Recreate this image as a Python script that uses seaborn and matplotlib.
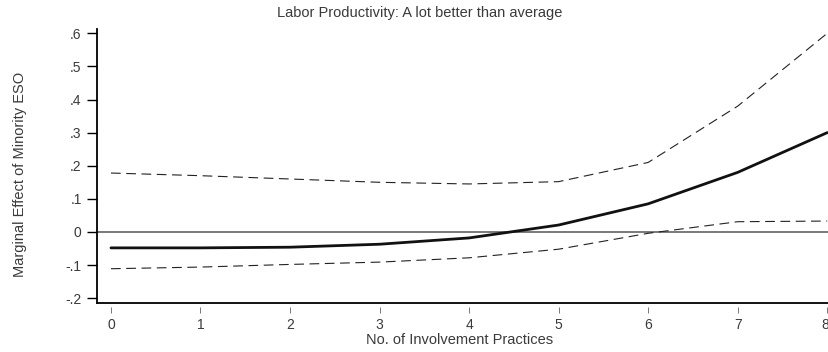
import numpy as np
import pandas as pd
import matplotlib
matplotlib.use("Agg")
import matplotlib.pyplot as plt
from matplotlib.lines import Line2D
from matplotlib.transforms import ScaledTranslation
import seaborn as sns

# ---- data ----
practices = [0, 1, 2, 3, 4, 5, 6, 7, 8]
effect = [-0.048, -0.048, -0.046, -0.037, -0.018, 0.021, 0.085, 0.180, 0.300]
upper_ci = [0.178, 0.170, 0.160, 0.150, 0.145, 0.152, 0.210, 0.380, 0.600]
lower_ci = [-0.111, -0.106, -0.098, -0.091, -0.078, -0.052, -0.004, 0.031, 0.033]
x_ticks = [0, 1, 2, 3, 4, 5, 6, 7, 8]
y_ticks = [-0.2, -0.1, 0, 0.1, 0.2, 0.3, 0.4, 0.5, 0.6]
y_ticklabels = ["-.2", "-.1", "0", ".1", ".2", ".3", ".4", ".5", ".6"]
title = "Labor Productivity: A lot better than average"
xlabel = "No. of Involvement Practices"
ylabel = "Marginal Effect of Minority ESO"

sns.set_style("white")
plt.rcParams['font.family'] = ['Liberation Sans', 'DejaVu Sans']
plt.rcParams['lines.scale_dashes'] = False

W, H = 829, 352
fig = plt.figure(figsize=(W / 100, H / 100), dpi=100)
L, R, T, B = 97, 829, 29, 303
ax = fig.add_axes([L / W, 1 - B / H, (R - L) / W, (B - T) / H])

text_color = "#3a3a3a"

df = pd.DataFrame({"x": practices, "effect": effect, "upper": upper_ci, "lower": lower_ci})

ax.axhline(0, color="#555555", lw=1.1, zorder=1)
sns.lineplot(data=df, x="x", y="upper", ax=ax, color="#222222", lw=0.8,
             linestyle=(0, (7, 4)), zorder=2)
sns.lineplot(data=df, x="x", y="lower", ax=ax, color="#222222", lw=0.8,
             linestyle=(0, (7, 4)), zorder=2)
sns.lineplot(data=df, x="x", y="effect", ax=ax, color="#111111", lw=2.0, zorder=3)

ax.set_xlim(-0.156, 8.02)
ax.set_ylim(-0.2145, 0.613)

ax.set_xticks(x_ticks)
ax.set_xticklabels([str(v) for v in x_ticks])
ax.set_yticks(y_ticks)
ax.set_yticklabels(y_ticklabels)

ax.tick_params(axis="y", direction="out", length=7, width=1.0, color="black",
               labelsize=10, labelcolor=text_color, pad=4, left=True)
ax.tick_params(axis="x", direction="out", length=4, width=0.7, color="#777777",
               labelsize=10, labelcolor=text_color, pad=4, bottom=True)

for s in ["top", "right"]:
    ax.spines[s].set_visible(False)
ax.spines["left"].set_color("black")
ax.spines["left"].set_linewidth(1.3)
ax.spines["bottom"].set_position(("outward", 3))
ax.spines["bottom"].set_visible(False)
ax.add_line(Line2D([0, 1], [0, 0], transform=ax.transAxes, color="black",
                   lw=1.3, clip_on=False, zorder=5))

ax.set_xlabel(xlabel, fontsize=10.5, color=text_color)
ax.set_ylabel(ylabel, fontsize=10.5, color=text_color)
ax.xaxis.set_label_coords((460 - L) / (R - L), (B - 340) / (B - T))
ax.yaxis.set_label_coords((20 - L) / (R - L), (B - 174) / (B - T))
ax.xaxis.label.set_va("center")
ax.yaxis.label.set_va("center")

fig.text(420 / W, 1 - 13 / H, title, ha="center", va="center",
         fontsize=10.5, color=text_color)

# keep the last x tick label inside the figure edge
fig.canvas.draw()
last = ax.xaxis.get_major_ticks()[-1].label1
last.set_horizontalalignment("right")
last.set_transform(last.get_transform() + ScaledTranslation(2 / 100, 0, fig.dpi_scale_trans))

fig.savefig("out.png", dpi=100)
